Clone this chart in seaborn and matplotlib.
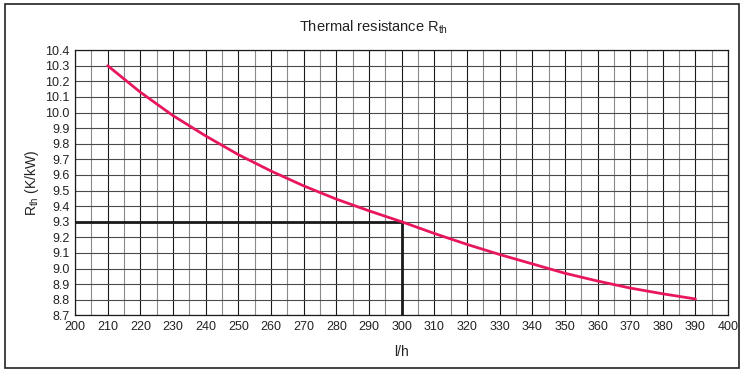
import matplotlib
matplotlib.use("Agg")
import matplotlib.pyplot as plt
import numpy as np
import pandas as pd
import seaborn as sns
from matplotlib.patches import Rectangle

# Flow rate (l/h) and thermal resistance (K/kW)
flow = [210, 220, 230, 240, 250, 260, 270, 280, 290, 300,
        310, 320, 330, 340, 350, 360, 370, 380, 390]
rth = [10.30, 10.13, 9.98, 9.85, 9.73, 9.625, 9.53, 9.445, 9.37, 9.30,
       9.225, 9.155, 9.09, 9.03, 8.97, 8.92, 8.875, 8.838, 8.805]

# Operating point marked on the chart
op_flow = 300
op_rth = 9.3

x_ticks = list(range(200, 401, 10))
y_ticks = [8.7, 8.8, 8.9, 9.0, 9.1, 9.2, 9.3, 9.4, 9.5, 9.6, 9.7, 9.8,
           9.9, 10.0, 10.1, 10.2, 10.3, 10.4]

sns.set_theme(style="white")
plt.rcParams["font.family"] = ["Liberation Sans", "DejaVu Sans"]
plt.rcParams["mathtext.fontset"] = "custom"
plt.rcParams["mathtext.rm"] = "Liberation Sans"
plt.rcParams["mathtext.it"] = "Liberation Sans"

fig = plt.figure(figsize=(7.43, 3.71), dpi=100)
ax = fig.add_axes([0.101, 0.150, 0.879, 0.715])

# Outer frame around the whole chart
fig.patches.append(Rectangle((0.007, 0.008), 0.988, 0.982, transform=fig.transFigure,
                             fill=False, edgecolor="#222222", linewidth=1.2))

# Grid: every 5 l/h and every 0.1 K/kW
for xv in np.arange(200, 401, 5):
    major = xv % 10 == 0
    ax.axvline(xv, color="#1a1a1a" if major else "#8a8a8a", linewidth=0.8, zorder=1)
for yv in y_ticks:
    ax.axhline(yv, color="#4a4a4a", linewidth=0.8, zorder=1)

df = pd.DataFrame({"flow": flow, "rth": rth})
sns.lineplot(data=df, x="flow", y="rth", ax=ax, color="#e8175d", linewidth=2.0, zorder=4)

# Operating point guide lines
ax.plot([200, op_flow], [op_rth, op_rth], color="#1a1a1a", linewidth=2.0, zorder=3)
ax.plot([op_flow, op_flow], [8.7, op_rth], color="#1a1a1a", linewidth=2.0, zorder=3)

ax.set_xlim(200, 400)
ax.set_ylim(8.7, 10.4)
ax.set_xticks(x_ticks)
ax.set_yticks(y_ticks)
ax.set_yticklabels([f"{v:.1f}" for v in y_ticks])
ax.tick_params(axis="both", length=0, labelsize=9, colors="#222222", pad=4)
for s in ax.spines.values():
    s.set_color("#1a1a1a")
    s.set_linewidth(0.9)

ax.set_xlabel("l/h", fontsize=10, color="#222222", labelpad=9)
ax.set_ylabel(r"R$_{\mathrm{th}}$ (K/kW)", fontsize=10, color="#222222", labelpad=3)
fig.text(0.503, 0.927, r"Thermal resistance R$_{\mathrm{th}}$", ha="center", va="center",
         fontsize=10.5, color="#222222")

fig.savefig("out.png", dpi=100)
